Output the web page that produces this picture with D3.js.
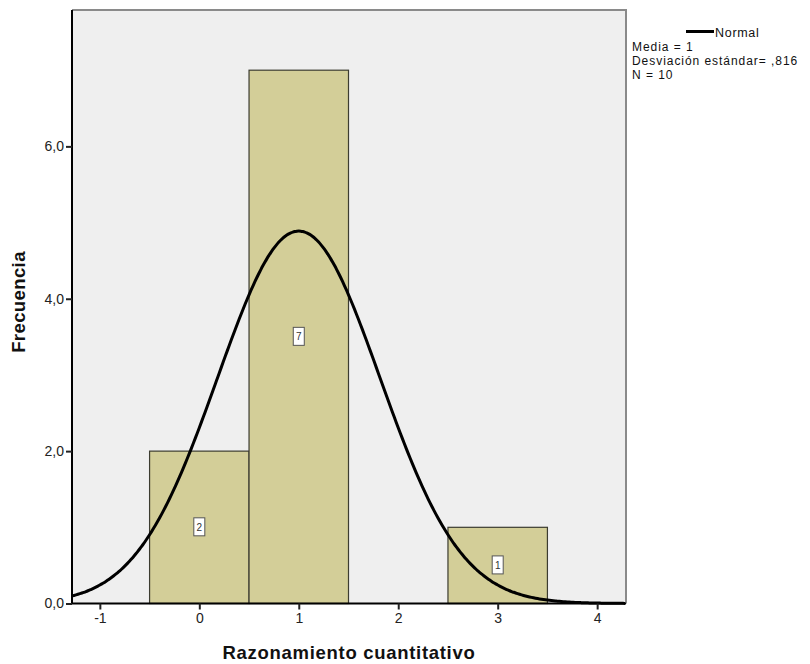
<!DOCTYPE html>
<html>
<head>
<meta charset="utf-8">
<script src="https://cdn.jsdelivr.net/npm/d3@7"></script>
<style>
  body { margin: 0; background: #fff; }
  svg { display: block; font-family: "Liberation Sans", Arial, sans-serif; }
</style>
</head>
<body>
<svg id="chart" width="810" height="664"></svg>
<script>
// Histogram data: score values and their frequencies
const scoreValues = [0, 1, 3];
const frequencies = [2, 7, 1];
const binWidth = 1;

// Fitted normal curve parameters
const mean = 1;
const stdDev = 0.816;
const nCases = 10;

// Axis ticks
const xTicks = [-1, 0, 1, 2, 3, 4];
const yTicks = [0, 2, 4, 6];

const legendLines = ["Media = 1", "Desviación estándar= ,816", "N = 10"];

const svg = d3.select("#chart");
const plotLeft = 72, plotRight = 626, plotTop = 10, plotBottom = 603.5;

const x = d3.scaleLinear().domain([-1.28, 4.29]).range([plotLeft, plotRight]);
const y = d3.scaleLinear().domain([0, 7.79]).range([plotBottom, plotTop]);

// Plot background
svg.append("rect")
  .attr("x", plotLeft).attr("y", plotTop)
  .attr("width", plotRight - plotLeft).attr("height", plotBottom - plotTop)
  .attr("fill", "#efefef");

// Frame (top and right)
svg.append("path")
  .attr("d", `M${plotLeft},${plotTop}H${plotRight}V${plotBottom}`)
  .attr("fill", "none").attr("stroke", "#8a8a8a").attr("stroke-width", 2);

// Bars
const bars = scoreValues.map((v, i) => ({ v, f: frequencies[i] }));
svg.append("g").selectAll("rect").data(bars).join("rect")
  .attr("x", d => x(d.v - binWidth / 2))
  .attr("y", d => y(d.f))
  .attr("width", d => x(d.v + binWidth / 2) - x(d.v - binWidth / 2))
  .attr("height", d => y(0) - y(d.f))
  .attr("fill", "#d3ce98")
  .attr("stroke", "#3c3c30")
  .attr("stroke-width", 1.2);

// Normal curve scaled to counts
const pdf = t => nCases * binWidth * Math.exp(-0.5 * ((t - mean) / stdDev) ** 2) / (stdDev * Math.sqrt(2 * Math.PI));
const xs = d3.range(x.domain()[0], x.domain()[1] + 0.001, 0.02);
svg.append("path")
  .datum(xs)
  .attr("d", d3.line().x(t => x(t)).y(t => y(pdf(t))).curve(d3.curveBasis))
  .attr("fill", "none").attr("stroke", "#000").attr("stroke-width", 3);

// Value labels inside bars
const lab = svg.append("g").selectAll("g").data(bars).join("g")
  .attr("transform", d => `translate(${x(d.v)},${y(d.f / 2)})`);
lab.append("rect")
  .attr("x", -5.5).attr("y", -9.5).attr("width", 11).attr("height", 18)
  .attr("fill", "#fff").attr("stroke", "#555").attr("stroke-width", 1);
lab.append("text")
  .attr("text-anchor", "middle").attr("dy", "0.35em")
  .attr("font-size", 10).attr("fill", "#333")
  .text(d => d.f);

// Axes
const xAxis = svg.append("g").attr("transform", `translate(0,${plotBottom})`)
  .call(d3.axisBottom(x).tickValues(xTicks).tickSize(6).tickPadding(4).tickFormat(d => String(d)));
xAxis.select(".domain").attr("d", `M${plotLeft},0H${plotRight}`).attr("stroke", "#000").attr("stroke-width", 2);
xAxis.selectAll(".tick line").attr("stroke", "#222").attr("stroke-width", 2);
xAxis.selectAll(".tick text").attr("font-size", 14).attr("fill", "#222")
  .attr("font-family", "Liberation Sans, Arial, sans-serif");

const yAxis = svg.append("g").attr("transform", `translate(${plotLeft},0)`)
  .call(d3.axisLeft(y).tickValues(yTicks).tickSize(6).tickPadding(2)
    .tickFormat(d => d3.format(".1f")(d).replace(".", ",")));
yAxis.select(".domain").attr("d", `M0,${plotTop}V${plotBottom}`).attr("stroke", "#000").attr("stroke-width", 2);
yAxis.selectAll(".tick line").attr("stroke", "#222").attr("stroke-width", 2);
yAxis.selectAll(".tick text").attr("font-size", 14).attr("fill", "#222")
  .attr("font-family", "Liberation Sans, Arial, sans-serif");

// Axis titles
svg.append("text")
  .attr("x", 349).attr("y", 664 - 5)
  .attr("text-anchor", "middle").attr("font-size", 18.5).attr("font-weight", "bold")
  .attr("letter-spacing", 0.7)
  .attr("fill", "#111")
  .text("Razonamiento cuantitativo");
svg.append("text")
  .attr("transform", "translate(25,302) rotate(-90)")
  .attr("text-anchor", "middle").attr("font-size", 18.5).attr("font-weight", "bold")
  .attr("letter-spacing", 0.4)
  .attr("fill", "#111")
  .text("Frecuencia");

// Legend
svg.append("line")
  .attr("x1", 686).attr("x2", 714).attr("y1", 31.5).attr("y2", 31.5)
  .attr("stroke", "#000").attr("stroke-width", 3);
svg.append("text").attr("x", 715).attr("y", 36.5)
  .attr("font-size", 12.5).attr("letter-spacing", 0.7).attr("fill", "#111").text("Normal");
svg.append("g").selectAll("text").data(legendLines).join("text")
  .attr("x", 632).attr("y", (d, i) => 51 + i * 13.8)
  .attr("font-size", 12).attr("letter-spacing", 0.95).attr("fill", "#111")
  .text(d => d);
</script>
</body>
</html>
